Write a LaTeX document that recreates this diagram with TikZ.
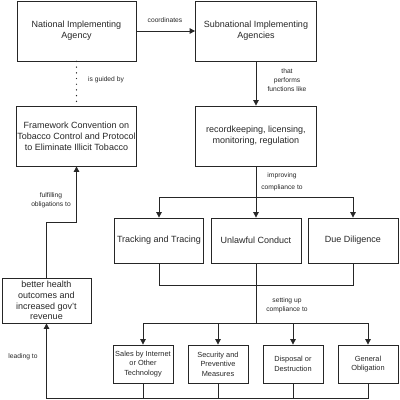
\documentclass[tikz,border=0pt]{standalone}
\usepackage{fontspec}
\setmainfont{Liberation Sans}
\usetikzlibrary{arrows.meta}
\begin{document}
\begin{tikzpicture}[x=1pt,y=-1pt,
  box/.style={draw=black!85, line width=0.8pt, align=center, inner sep=1pt, text=black!85,
    font=\fontsize{9}{11}\selectfont},
  sbox/.style={box, font=\fontsize{7.4}{9.4}\selectfont},
  lbl/.style={align=center, inner sep=0pt, text=black!85, font=\fontsize{6.7}{9}\selectfont},
  conn/.style={draw=black!85, line width=0.8pt},
  arr/.style={conn, -{Triangle[length=5.5pt,width=5.5pt]}},
  dots/.style={draw=black!85, line width=1.4pt, line cap=round, dash pattern=on 0pt off 5.7pt}]
\useasboundingbox (0,0) rectangle (400,400);

% boxes
\node[box, minimum width=119pt, minimum height=60pt] (nat) at (76.5,31) {National Implementing\\Agency};
\node[box, minimum width=121pt, minimum height=60pt] (sub) at (256,31) {Subnational Implementing\\Agencies};
\node[box, minimum width=119pt, minimum height=60pt] (fw) at (76.5,136) {Framework Convention on\\Tobacco Control and Protocol\\to Eliminate Illicit Tobacco};
\node[box, minimum width=121pt, minimum height=60pt] (rec) at (256,136) {recordkeeping, licensing,\\monitoring, regulation};
\node[box, minimum width=89pt, minimum height=45pt] (trk) at (159,240.5) {Tracking and Tracing};
\node[box, minimum width=90pt, minimum height=45pt] (unl) at (256,240.5) {Unlawful Conduct};
\node[box, minimum width=90pt, minimum height=45pt] (due) at (353,240.5) {Due Diligence};
\node[box, minimum width=89pt, minimum height=45pt, font=\fontsize{9}{10.6}\selectfont] (bet) at (46.5,300.5) {better health\\outcomes and\\increased gov't\\revenue};
\node[sbox, minimum width=60pt, minimum height=38pt] (sal) at (143,364) {Sales by Internet\\or Other\\Technology};
\node[sbox, minimum width=60pt, minimum height=38pt] (sec) at (218,364) {Security and\\Preventive\\Measures};
\node[sbox, minimum width=60pt, minimum height=38pt] (dis) at (293,364) {Disposal or\\Destruction};
\node[sbox, minimum width=60pt, minimum height=38pt] (gen) at (368,364) {General\\Obligation};

% coordinates for buses
\coordinate (b1) at (256,197);
\coordinate (b2) at (256,285);
\coordinate (b3) at (256,323);
\coordinate (b4) at (0,398);
\coordinate (c1) at (0,222);

% connectors
\draw[arr] (nat.east) -- (sub.west);
\draw[dots] (nat.south) -- (fw.north);
\draw[arr] (sub.south) -- (rec.north);

\draw[conn] (rec.south) -- (b1);
\draw[conn] (trk.north |- b1) -- (due.north |- b1);
\draw[arr] (trk.north |- b1) -- (trk.north);
\draw[arr] (b1) -- (unl.north);
\draw[arr] (due.north |- b1) -- (due.north);

\draw[conn] (trk.south) -- (trk.south |- b2) -- (due.south |- b2) -- (due.south);
\draw[conn] (unl.south) -- (b3);
\draw[conn] (sal.north |- b3) -- (gen.north |- b3);
\draw[arr] (sal.north |- b3) -- (sal.north);
\draw[arr] (sec.north |- b3) -- (sec.north);
\draw[arr] (dis.north |- b3) -- (dis.north);
\draw[arr] (gen.north |- b3) -- (gen.north);

\draw[conn] (sal.south) -- (sal.south |- b4);
\draw[conn] (sec.south) -- (sec.south |- b4);
\draw[conn] (dis.south) -- (dis.south |- b4);
\draw[arr] (gen.south) -- (gen.south |- b4) -- (bet.south |- b4) -- (bet.south);

\draw[arr] (bet.north) -- (bet.north |- c1) -- (fw.south |- c1) -- (fw.south);

% labels
\node[lbl] (l1) at (165,20) {coordinates};
\node[lbl] (l2) at (106,80) {is guided by};
\node[lbl] (l3) at (287,80) {that\\performs\\functions like};
\node[lbl, font=\fontsize{6.7}{11.5}\selectfont] (l4) at (282,182) {improving\\compliance to};
\node[lbl] (l5) at (287,305.5) {setting up\\compliance to};
\node[lbl] (l6) at (51,200.5) {fulfilling\\obligations to};
\node[lbl] (l7) at (23,357) {leading to};
\end{tikzpicture}
\end{document}
